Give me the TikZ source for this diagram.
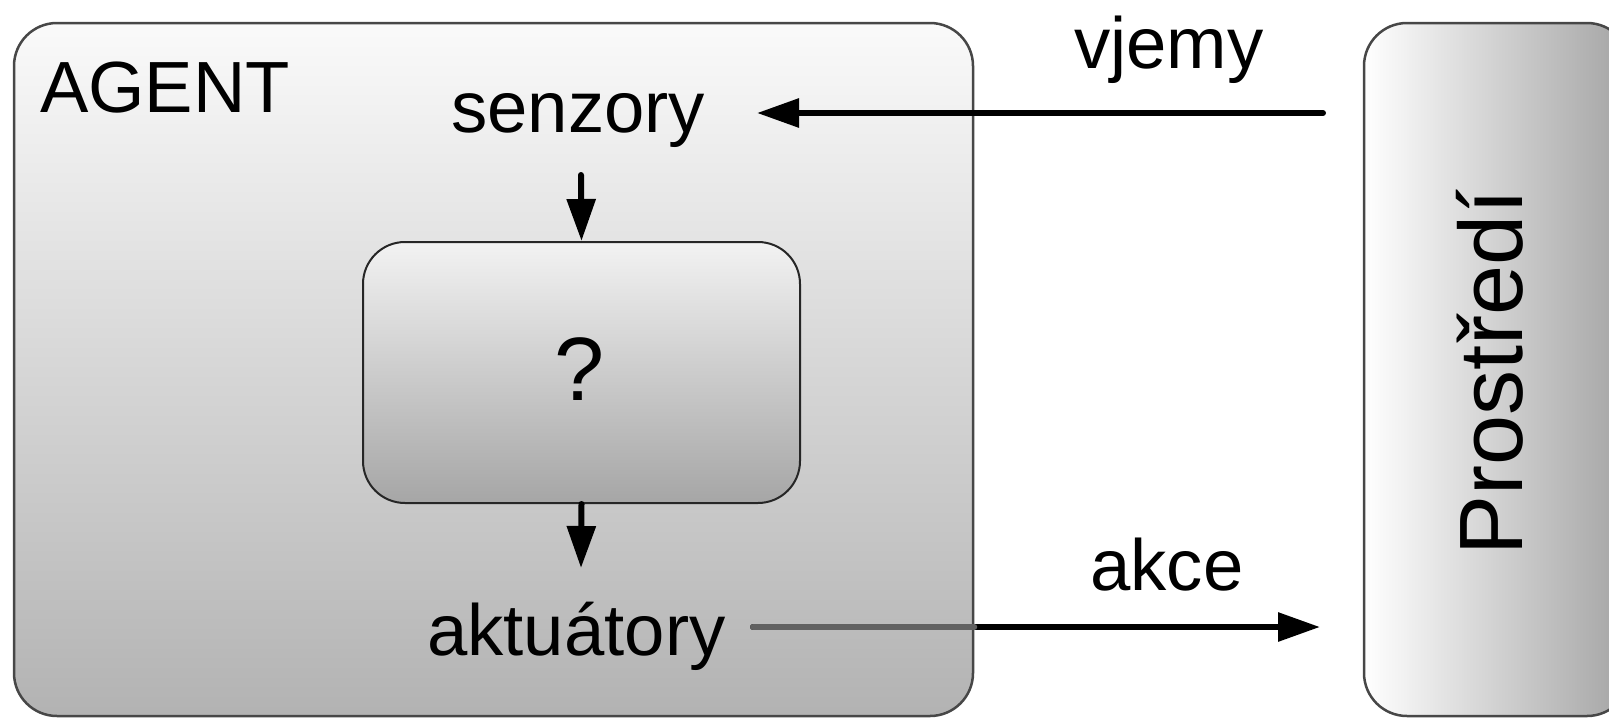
\documentclass[tikz,border=0pt]{standalone}
\usepackage{fontspec}
\setmainfont{Liberation Sans}
\usetikzlibrary{arrows.meta}
\tikzset{
  lbl/.style={inner sep=0pt, font=\fontsize{72.5}{87}\selectfont},
  big/.style={inner sep=0pt, font=\fontsize{90}{108}\selectfont},
  arr/.style={line width=6pt, line cap=round, -{Triangle[length=42pt,width=28pt]}},
  boxstyle/.style={draw=black!72, line width=2.5pt, rounded corners=43pt, inner sep=0pt}
}
\begin{document}
\begin{tikzpicture}[x=1pt,y=-1pt]
\useasboundingbox (0,0) rectangle (1609,718);
% boxes
\node[boxstyle, minimum width=959pt, minimum height=693pt,
      top color=black!2, bottom color=black!30] (agent) at (493.5,369.5) {};
\node[boxstyle, minimum width=266pt, minimum height=693pt,
      left color=white, right color=black!36] (env) at (1497,369.5) {};
\node[boxstyle, draw=black!85, line width=2pt, rounded corners=42pt,
      minimum width=437pt, minimum height=261pt,
      top color=black!5, bottom color=black!35] (core) at (581.5,372.5) {};
% texts
\node[lbl, anchor=base west] (agentlbl) at (40,112) {AGENT};
\node[lbl, anchor=base west] (sen) at (451,132) {senzory};
\node[lbl, anchor=base west] (akt) at (427,655) {aktuátory};
\node[lbl, anchor=base west] (vjemy) at (1074,68) {vjemy};
\node[lbl, anchor=base west] (akce) at (1090,590) {akce};
\node[big, anchor=base] (q) at (580,400) {?};
\node[big, anchor=base, rotate=90] (envlbl) at (1522,372.5) {Prostředí};
% connector end points
\coordinate (vjS) at (1323,113);
\coordinate (vjE) at (757,113);
\coordinate (d1S) at (581,175);
\coordinate (d2E) at (581,568);
\coordinate (akS) at (753,627);
\coordinate (akE) at (1320,627);
% connectors
\draw[arr] (vjS) -- (vjE);
\draw[arr] (d1S) -- (core.north);
\draw[arr] (core.south) -- (d2E);
\draw[arr] (akS) -- (akE);
\draw[line width=6pt, line cap=round, black!62] (akS) -- (agent.east |- akS);
\end{tikzpicture}
\end{document}
